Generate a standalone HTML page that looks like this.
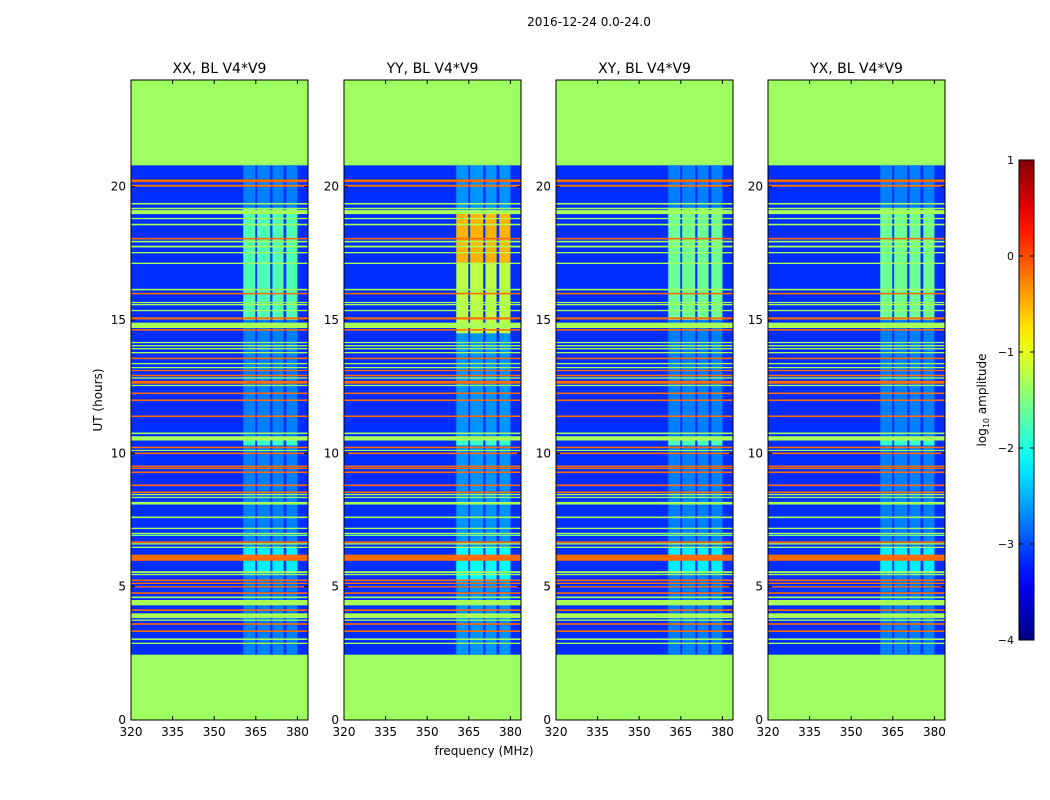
<!DOCTYPE html>
<html><head><meta charset="utf-8"><style>
body{margin:0;background:#fff;}
svg{display:block;font-family:"DejaVu Sans","Liberation Sans",sans-serif;}
</style></head><body>
<svg id="chart" width="1050" height="800" viewBox="0 0 1050 800" xmlns="http://www.w3.org/2000/svg">
<rect width="1050" height="800" fill="#fff"/>
<text x="589" y="26" font-size="12" text-anchor="middle">2016-12-24 0.0-24.0</text>
<text transform="translate(102,400) rotate(-90)" font-size="12" text-anchor="middle">UT (hours)</text>
<text x="484" y="755" font-size="12" text-anchor="middle">frequency (MHz)</text>
<g id="panels"></g>
<g id="cbar"></g>
</svg>
<script>
// ---- data ----
const panelTitles = ["XX, BL V4*V9","YY, BL V4*V9","XY, BL V4*V9","YX, BL V4*V9"];
const xTicks = [320,335,350,365,380];
const yTicks = [0,5,10,15,20];
const cbarTicks = [1,0,-1,-2,-3,-4];
const cbarTickLabels = ["1","0","\u22121","\u22122","\u22123","\u22124"];
const observedStart = 2.45, observedEnd = 20.8;
const flaggedLevel = -1.35, noiseLevel = -3.15;
const subBands = [[360.5,364.8],[365.5,370.2],[371,375],[376,380]];
// RFI lines: [startHour, endHour, level]
const rfiLines = [
[20.17,20.27,-0.15],[20.0,20.07,-0.2],[19.33,19.39,-1.3],[19.15,19.21,-1.3],[18.97,19.12,-1.3],
[18.78,18.83,-1.3],[18.55,18.61,-1.3],[18.02,18.08,-0.15],[17.91,17.97,-1.3],[17.72,17.79,-1.3],
[17.5,17.55,-1.3],[17.1,17.15,-1.3],[16.11,16.17,-1.3],[15.96,16.02,-0.15],[15.63,15.68,-1.3],
[15.55,15.6,-1.3],[15.33,15.38,-1.3],[15.02,15.1,-0.15],[14.7,14.9,-1.3],[14.6,14.66,-0.15],
[14.13,14.18,-1.3],[14.01,14.06,-1.3],[13.9,13.95,-1.3],[13.75,13.8,-1.3],[13.53,13.59,-0.15],
[13.34,13.39,-1.3],[13.19,13.24,-1.3],[13.08,13.13,-0.15],[12.89,12.95,-0.15],[12.8,12.85,-1.3],
[12.61,12.72,-0.15],[12.52,12.57,-1.3],[12.22,12.28,-0.15],[11.96,12.02,-0.15],[11.36,11.42,-0.15],
[10.72,10.78,-1.3],[10.48,10.64,-1.3],[10.19,10.25,-0.15],[10.09,10.13,-1.3],[9.97,10.03,-0.15],
[9.48,9.54,-0.15],[9.41,9.46,-0.15],[9.26,9.32,-0.15],[8.77,8.83,-0.15],[8.51,8.57,-0.15],
[8.43,8.48,-1.3],[8.32,8.37,-1.3],[8.08,8.18,-1.3],[7.57,7.63,-1.3],[7.16,7.21,-1.3],
[6.97,7.02,-1.3],[6.9,6.95,-1.6],[6.64,6.7,-0.15],[6.58,6.63,-1.3],[6.45,6.5,-1.3],
[5.97,6.2,-0.15],[5.51,5.58,-1.3],[5.43,5.48,-1.3],[5.21,5.27,-0.15],[5.1,5.15,-0.15],
[4.97,5.02,-0.15],[4.73,4.79,-0.15],[4.57,4.63,-1.3],[4.3,4.5,-1.3],[4.09,4.15,-0.15],
[3.82,4.0,-1.3],[3.72,3.77,-1.3],[3.57,3.63,-0.15],[3.3,3.36,-0.15],[3.0,3.06,-1.3],[2.85,2.9,-1.3]
];
// band activity per panel: [startHour, endHour, level]
const bandXX = [[2.45,20.8,-2.75],[15.0,19.2,-1.75],[10.3,10.6,-1.85],[5.5,6.5,-2.2]];
const bandYY = [[2.45,20.8,-2.65],[14.5,17.1,-1.2],[17.1,19.0,-0.5],[10.3,10.6,-1.85],[5.2,6.5,-2.1]];
const bandXY = [[2.45,20.8,-2.75],[15.0,19.2,-1.6],[10.3,10.6,-1.75],[5.5,6.5,-2.2]];
const bandYX = [[2.45,20.8,-2.75],[15.0,19.2,-1.6],[10.3,10.6,-1.85],[5.5,6.5,-2.2]];
const panelBands = [bandXX,bandYY,bandXY,bandYX];

// ---- layout ----
const NS="http://www.w3.org/2000/svg";
const panelLefts=[131,344,556,768], PW=177, PT=80, PB=720;
const fMin=320, fMax=320+PW/41.6*15, hMin=0, hMax=24;
const vmin=-4, vmax=1;
function jet(v){
  let t=(v-vmin)/(vmax-vmin); t=Math.max(0,Math.min(1,t));
  const c=x=>Math.round(255*Math.max(0,Math.min(1,x)));
  return `rgb(${c(1.5-Math.abs(4*t-3))},${c(1.5-Math.abs(4*t-2))},${c(1.5-Math.abs(4*t-1))})`;
}
function mk(tag,attrs,parent){const e=document.createElementNS(NS,tag);for(const k in attrs)e.setAttribute(k,attrs[k]);parent.appendChild(e);return e;}
const root=document.getElementById('panels');
panelTitles.forEach((title,p)=>{
  const L=panelLefts[p];
  const xs=f=>L+(f-fMin)/(fMax-fMin)*PW;
  const ys=h=>PB-(h-hMin)/(hMax-hMin)*(PB-PT);
  const g=mk('g',{},root);
  
  
  const cg=mk('g',{},g);
  
  
  mk('rect',{x:L,y:PT,width:PW,height:PB-PT,fill:jet(flaggedLevel)},cg);
  mk('rect',{x:L,y:ys(observedEnd),width:PW,height:ys(observedStart)-ys(observedEnd),fill:jet(noiseLevel)},cg);
  panelBands[p].forEach(s=>{
    subBands.forEach(b=>{
      const r=mk('rect',{x:xs(b[0]),y:ys(s[1]),width:xs(b[1])-xs(b[0]),height:ys(s[0])-ys(s[1]),fill:jet(s[2])},cg);
      
      
    });
  });
  rfiLines.forEach(l=>{
    const r=mk('rect',{x:L,y:ys(l[1]),width:PW,height:Math.max(1,ys(l[0])-ys(l[1])),fill:jet(l[2])},cg);
    
    
  });
  mk('rect',{x:L,y:PT,width:PW,height:PB-PT,fill:'none',stroke:'#000','stroke-width':1},g);
  const t=mk('text',{x:L+PW/2,y:PT-7,'font-size':14,'text-anchor':'middle'},g);
  t.textContent=title;
  
  
  xTicks.forEach(v=>{
    const x=xs(v);
    mk('line',{x1:x,x2:x,y1:PB,y2:PB-4,stroke:'#000'},g);
    mk('line',{x1:x,x2:x,y1:PT,y2:PT+4,stroke:'#000'},g);
    const tx=mk('text',{x:x,y:PB+16,'font-size':12,'text-anchor':'middle'},g);
    tx.textContent=v;
    
    
  });
  yTicks.forEach(v=>{
    const y=ys(v);
    mk('line',{x1:L,x2:L+4,y1:y,y2:y,stroke:'#000'},g);
    mk('line',{x1:L+PW,x2:L+PW-4,y1:y,y2:y,stroke:'#000'},g);
    const ty=mk('text',{x:L-5,y:y+4,'font-size':12,'text-anchor':'end'},g);
    ty.textContent=v;
    
    
  });
});
// colorbar
const cb=document.getElementById('cbar');


const CX=1019,CW=15,CT=160,CB=640;
const cys=v=>CB-(v-vmin)/(vmax-vmin)*(CB-CT);
const defs=mk('defs',{},cb);
const grad=mk('linearGradient',{id:'jetg',x1:0,y1:1,x2:0,y2:0},defs);
for(let i=0;i<=20;i++){mk('stop',{offset:i/20,'stop-color':jet(vmin+(vmax-vmin)*i/20)},grad);}
mk('rect',{x:CX,y:CT,width:CW,height:CB-CT,fill:'url(#jetg)',stroke:'#000','stroke-width':1},cb);
cbarTicks.forEach((v,i)=>{
  const y=cys(v);
  mk('line',{x1:CX,x2:CX+4,y1:y,y2:y,stroke:'#000'},cb);
  mk('line',{x1:CX+CW,x2:CX+CW-4,y1:y,y2:y,stroke:'#000'},cb);
  const t=mk('text',{x:CX-5,y:y+4,'font-size':11,'text-anchor':'end'},cb);
  t.textContent=cbarTickLabels[i];
  
  
});
const lab=mk('text',{transform:'translate(986,400) rotate(-90)','font-size':12,'text-anchor':'middle'},cb);


lab.innerHTML='log<tspan font-size="8" dy="3">10</tspan><tspan dy="-3"> amplitude</tspan>';
</script>
</body></html>
